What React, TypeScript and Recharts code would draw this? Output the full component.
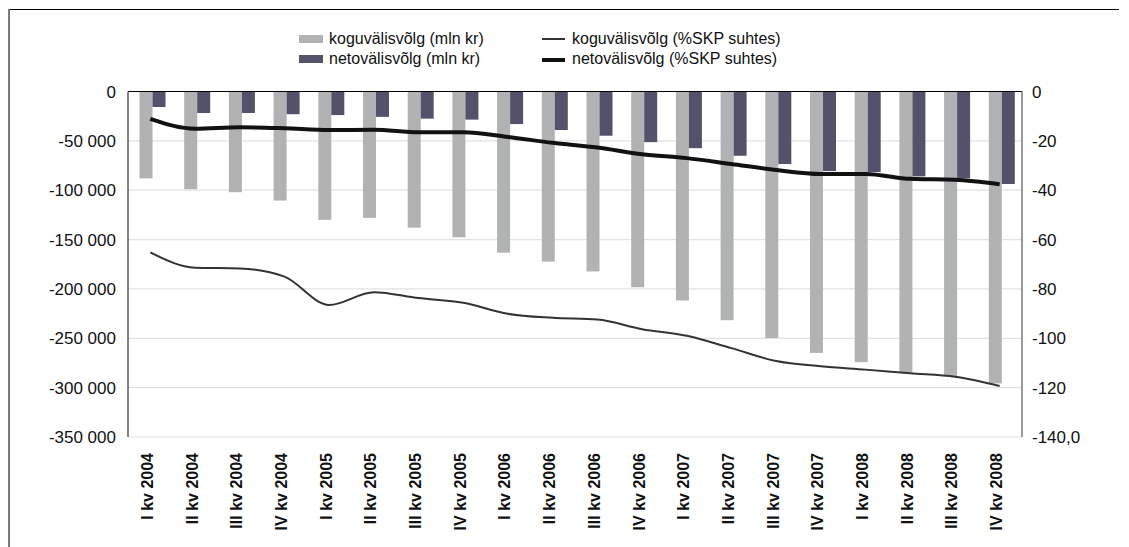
import React from "react";
import {
  ComposedChart,
  Bar,
  Line,
  XAxis,
  YAxis,
  CartesianGrid,
  ReferenceLine,
  Legend,
} from "recharts";

const categories = [
  "I kv 2004", "II kv 2004", "III kv 2004", "IV kv 2004",
  "I kv 2005", "II kv 2005", "III kv 2005", "IV kv 2005",
  "I kv 2006", "II kv 2006", "III kv 2006", "IV kv 2006",
  "I kv 2007", "II kv 2007", "III kv 2007", "IV kv 2007",
  "I kv 2008", "II kv 2008", "III kv 2008", "IV kv 2008",
];

const grossDebtMln = [
  -88000, -99000, -102000, -110500, -130000, -128000, -138000, -147700,
  -163300, -172300, -182300, -198300, -211700, -231700, -249700, -264800,
  -274200, -284500, -288500, -295700,
];

const netDebtMln = [
  -15700, -21800, -21800, -23000, -23900, -25700, -27500, -28500,
  -33000, -39000, -44800, -51300, -57400, -65100, -73500, -80600,
  -81600, -86000, -88000, -93700,
];

const grossDebtGdp = [
  -65.2, -71.4, -71.7, -75.0, -86.5, -81.3, -83.7, -85.6,
  -90.1, -91.7, -92.4, -96.3, -99.0, -104.0, -109.2, -111.3,
  -112.7, -114.2, -115.6, -119.3,
];

const netDebtGdp = [
  -11.1, -15.1, -14.5, -14.9, -15.6, -15.5, -16.5, -16.5,
  -18.4, -20.8, -22.7, -25.4, -27.0, -29.4, -31.8, -33.4,
  -33.4, -35.4, -35.8, -37.6,
];

const leftTicks = [0, -50000, -100000, -150000, -200000, -250000, -300000, -350000];
const rightTicks = [0, -20, -40, -60, -80, -100, -120, -140];

const data = categories.map((c, i) => ({
  name: c,
  gross: grossDebtMln[i],
  net: netDebtMln[i],
  grossPct: grossDebtGdp[i],
  netPct: netDebtGdp[i],
}));

const fmtLeft = (v: number) => {
  if (v === 0) return "0";
  const a = Math.abs(v);
  const th = Math.floor(a / 1000);
  return "-" + th + " 000";
};

const fmtRight = (v: number) => (v === -140 ? "-140,0" : String(v));

const FONT = "'Liberation Sans', Arial, Helvetica, sans-serif";

const XTick = (props: any) => {
  const { x, y, payload } = props;
  const tx = x - 3;
  const ty = y + 8;
  return (
    <text
      x={tx}
      y={ty}
      transform={`rotate(-90, ${tx}, ${ty})`}
      textAnchor="end"
      dominantBaseline="central"
      fontFamily={FONT}
      fontSize={16}
      fontWeight="bold"
      fill="#111"
    >
      {payload.value}
    </text>
  );
};

const BarShifted = (props: any) => {
  const { x, y, width, height, fill } = props;
  if (height == null || width == null) return null;
  const h = Math.abs(height);
  const top = height < 0 ? y + height : y;
  return <rect x={x + 2.5} y={top} width={width} height={h} fill={fill} />;
};

const legendText: React.CSSProperties = {
  position: "absolute",
  fontFamily: FONT,
  fontSize: 16,
  color: "#111",
  whiteSpace: "nowrap",
  lineHeight: "18px",
};

const renderLegend = () => (
  <div style={{ position: "relative", width: 600, height: 0 }}>
    <div style={{ position: "absolute", left: 0, top: 0, width: 24, height: 8, background: "#b1b2b4" }} />
    <div style={{ ...legendText, left: 30, top: -5 }}>koguvälisvõlg (mln kr)</div>
    <div style={{ position: "absolute", left: 0, top: 20, width: 24, height: 8, background: "#54526b" }} />
    <div style={{ ...legendText, left: 30, top: 15 }}>netovälisvõlg (mln kr)</div>
    <div style={{ position: "absolute", left: 243, top: 3, width: 23, height: 2, background: "#333" }} />
    <div style={{ ...legendText, left: 273, top: -5 }}>koguvälisvõlg (%SKP suhtes)</div>
    <div style={{ position: "absolute", left: 243, top: 23, width: 23, height: 4, background: "#111" }} />
    <div style={{ ...legendText, left: 273, top: 15 }}>netovälisvõlg (%SKP suhtes)</div>
  </div>
);

export default function App() {
  return (
    <div style={{ position: "relative", width: 1113, height: 539 }}>
      <div
        style={{
          position: "absolute",
          left: 0,
          top: 1,
          width: 1111,
          height: 1,
          background: "#000",
          zIndex: 2,
        }}
      />
      <div
        style={{
          position: "absolute",
          left: 0,
          top: 1,
          width: 2,
          height: 560,
          background: "#7a7a7a",
          zIndex: 2,
        }}
      />
      <div style={{ position: "absolute", left: 0, top: 0 }}>
        <ComposedChart
          width={1113}
          height={539}
          data={data}
          margin={{ top: 83.5, right: 19, bottom: 10, left: 0 }}
          barGap={0}
          barCategoryGap={0}
        >
          <CartesianGrid yAxisId="left" vertical={false} stroke="#e2e2e2" strokeWidth={1.2} />
          <XAxis
            dataKey="name"
            interval={0}
            height={100}
            tick={<XTick />}
            tickLine={false}
            axisLine={false}
          />
          <YAxis
            yAxisId="left"
            orientation="left"
            width={120}
            domain={[-350000, 0]}
            ticks={leftTicks}
            tickFormatter={fmtLeft}
            tickLine={false}
            tickMargin={6}
            axisLine={{ stroke: "#333", strokeWidth: 1.2 }}
            tick={{ fontFamily: FONT, fontSize: 17, fill: "#111" }}
            allowDataOverflow
          />
          <YAxis
            yAxisId="right"
            orientation="right"
            width={80}
            domain={[-140, 0]}
            ticks={rightTicks}
            tickFormatter={fmtRight}
            tickLine={false}
            tickMargin={4}
            axisLine={{ stroke: "#555", strokeWidth: 1.2 }}
            tick={{ fontFamily: FONT, fontSize: 17, fill: "#111", textAnchor: "start" }}
            allowDataOverflow
          />
          <Legend
            content={renderLegend}
            wrapperStyle={{ position: "absolute", left: 291, top: 27, width: 600, height: 0 }}
          />
          <Bar
            yAxisId="left"
            dataKey="gross"
            fill="#b1b2b4"
            barSize={13}
            shape={<BarShifted />}
            isAnimationActive={false}
          />
          <Bar
            yAxisId="left"
            dataKey="net"
            fill="#54526b"
            barSize={13}
            shape={<BarShifted />}
            isAnimationActive={false}
          />
          <ReferenceLine yAxisId="left" y={0} stroke="#000" strokeWidth={1.2} />
          <Line
            yAxisId="right"
            type="monotone"
            dataKey="grossPct"
            stroke="#333"
            strokeWidth={2}
            dot={false}
            isAnimationActive={false}
          />
          <Line
            yAxisId="right"
            type="monotone"
            dataKey="netPct"
            stroke="#111"
            strokeWidth={4}
            dot={false}
            isAnimationActive={false}
          />
        </ComposedChart>
      </div>
    </div>
  );
}
